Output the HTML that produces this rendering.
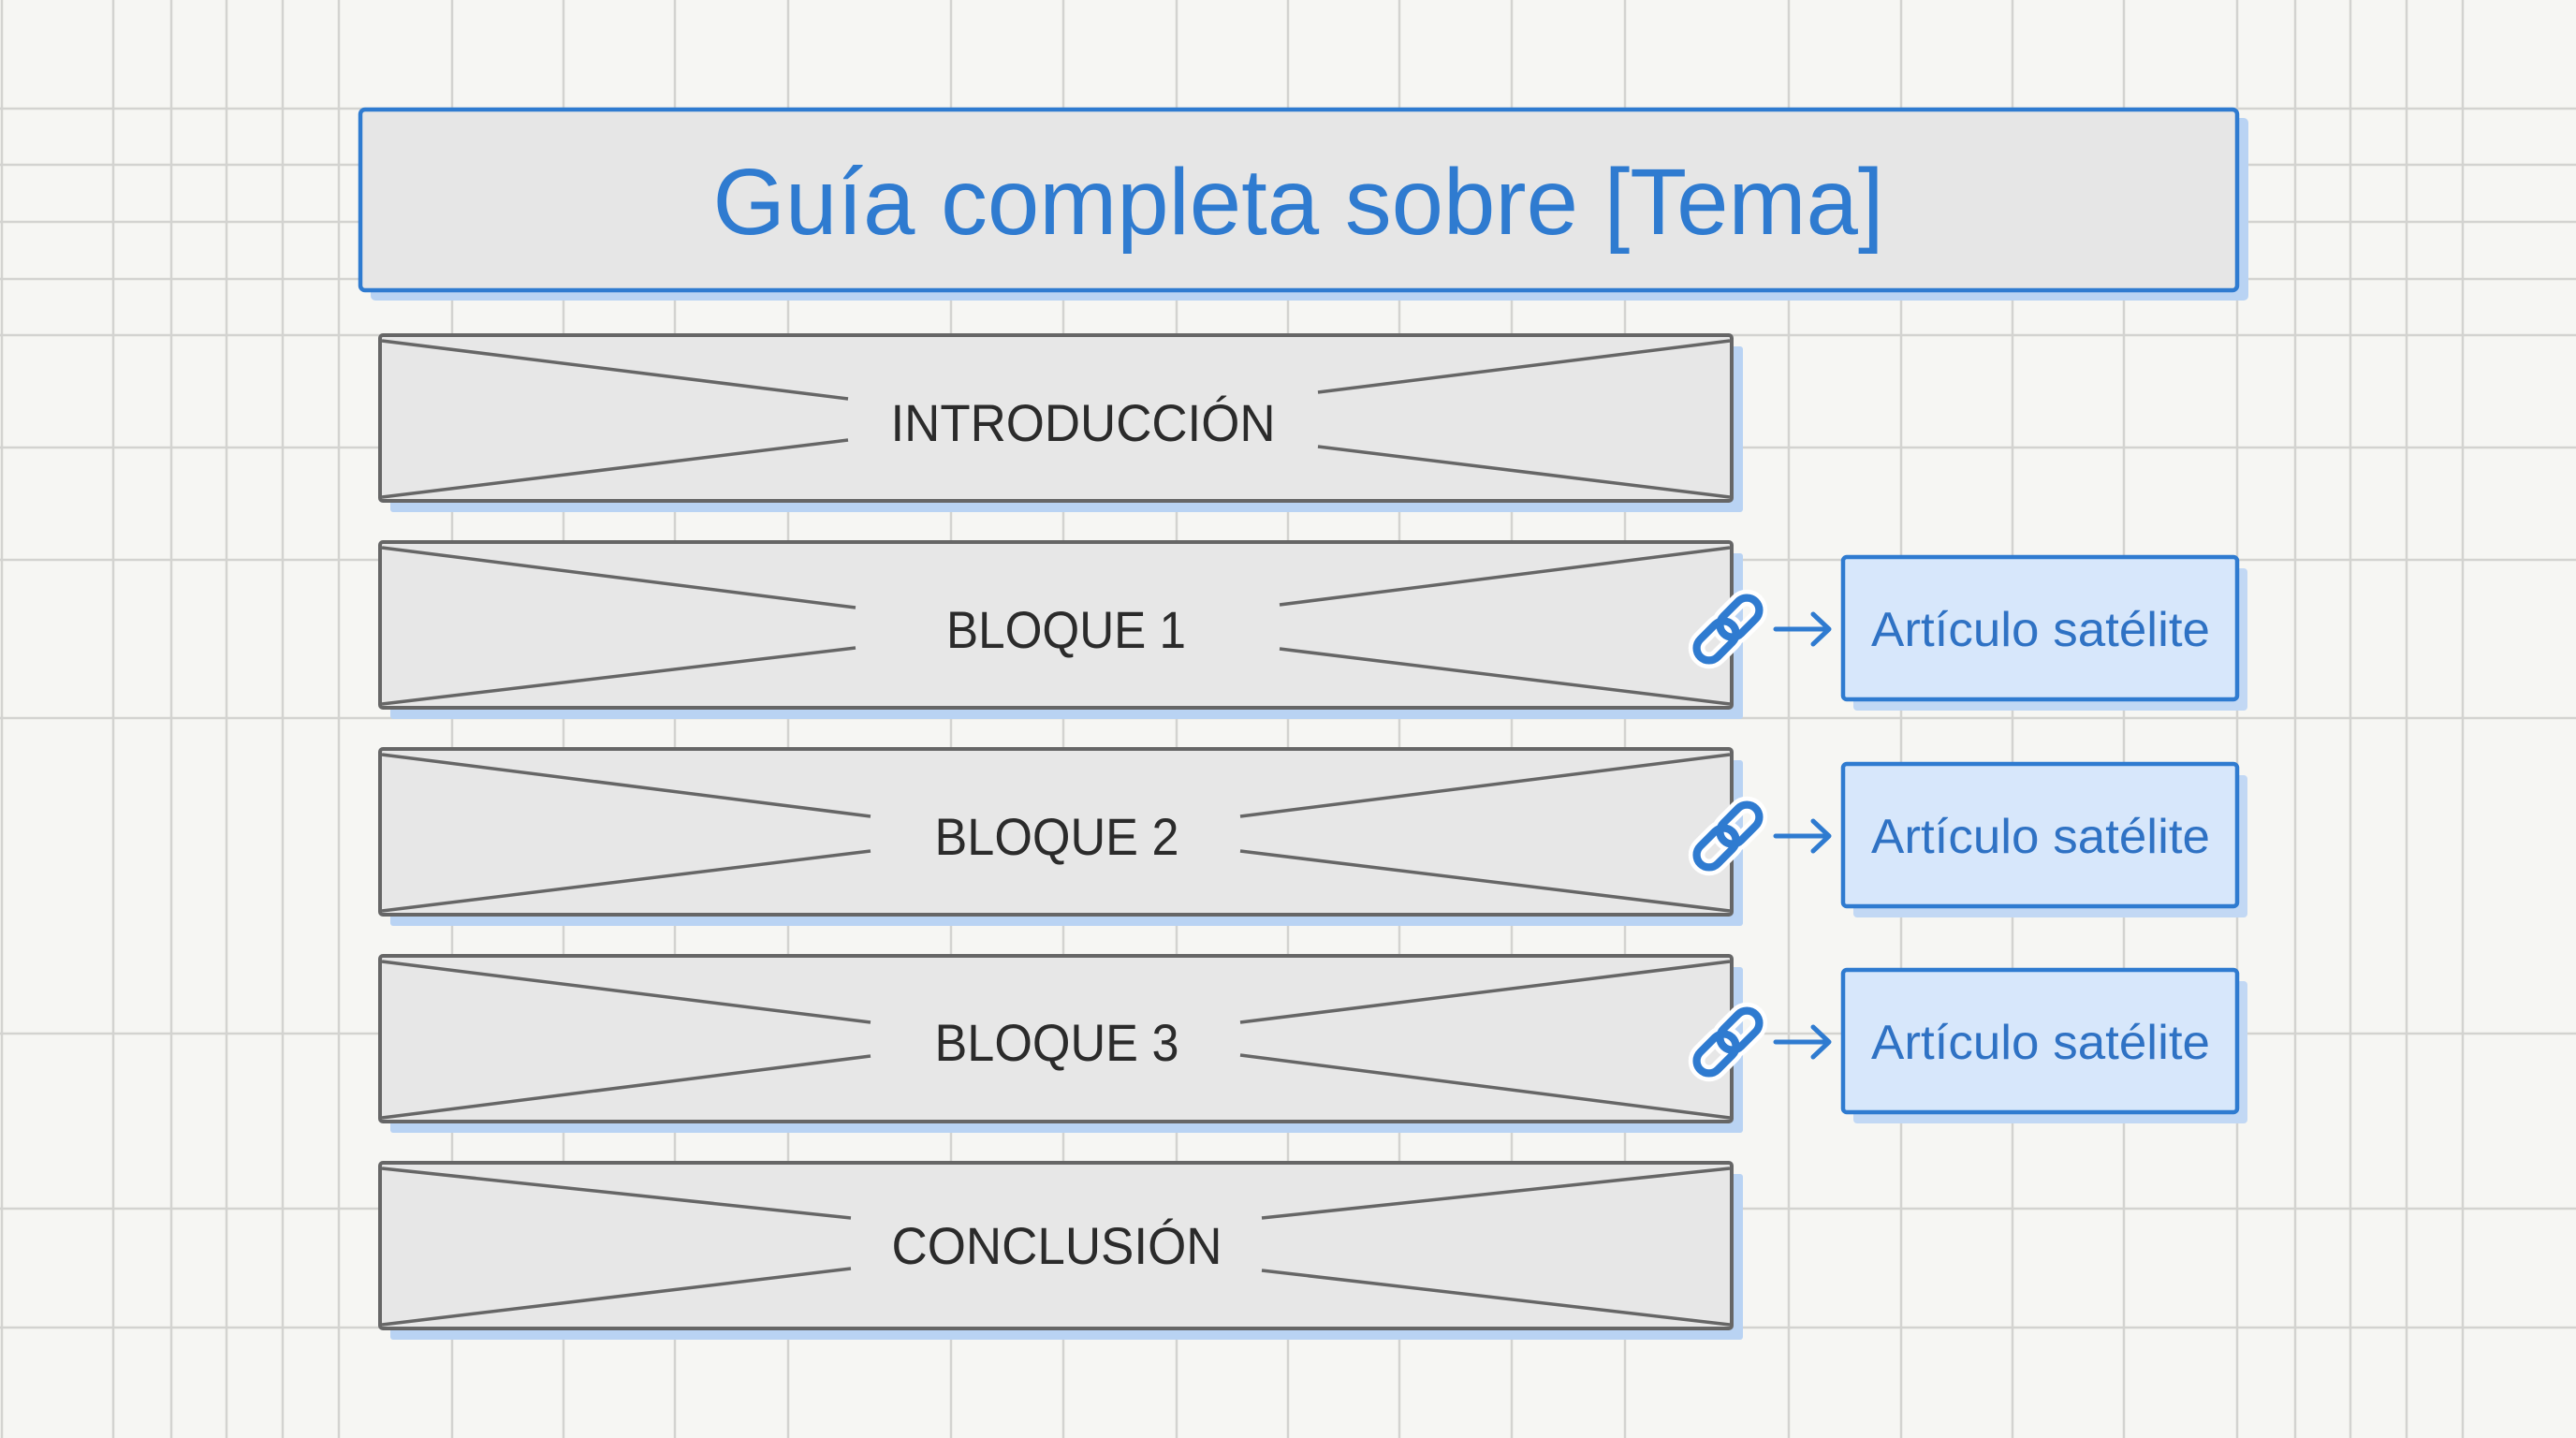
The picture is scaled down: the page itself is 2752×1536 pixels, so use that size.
<!DOCTYPE html>
<html><head><meta charset="utf-8"><style>
html,body{margin:0;padding:0;background:#f6f6f3;}
svg{display:block}
</style></head><body>
<svg width="2752" height="1536" viewBox="0 0 2752 1536" xmlns="http://www.w3.org/2000/svg">
<defs>
<symbol id="chain" viewBox="-40 -40 80 80">
<g transform="rotate(-45)" fill="none" stroke="#ffffff" stroke-width="16" stroke-linecap="round">
<rect x="-38" y="-12" width="44" height="24" rx="12"/>
<rect x="-6" y="-12" width="44" height="24" rx="12"/>
</g>
<g transform="rotate(-45)" fill="none" stroke="#2f7bd0" stroke-width="7.5">
<rect x="-38" y="-12" width="44" height="24" rx="12"/>
<rect x="-6" y="-12" width="44" height="24" rx="12"/>
</g>
</symbol>
</defs>
<rect width="2752" height="1536" fill="#f6f6f3"/>
<g stroke="#d3d3d0" stroke-width="2.5" fill="none">
<path d="M2 0V1536M121 0V1536M183 0V1536M242 0V1536M302 0V1536M362 0V1536M483 0V1536M602 0V1536M721 0V1536M842 0V1536M1016 0V1536M1136 0V1536M1257 0V1536M1376 0V1536M1495 0V1536M1615 0V1536M1736 0V1536M1911 0V1536M2031 0V1536M2150 0V1536M2269 0V1536M2390 0V1536M2452 0V1536M2511 0V1536M2571 0V1536M2631 0V1536"/>
<path d="M0 116H2752M0 176H2752M0 237H2752M0 298H2752M0 358H2752M0 478H2752M0 598H2752M0 767H2752M0 1104H2752M0 1291H2752M0 1418H2752"/>
</g>

<rect x="396" y="126" width="2006" height="195" rx="5" fill="#b9d3f3"/>
<rect x="385" y="117" width="2005" height="193" rx="5" fill="#e6e6e6" stroke="#2f7bd0" stroke-width="4.5"/>
<text x="1387" y="250" font-family="Liberation Sans, sans-serif" font-size="100" fill="#2f7bd0" text-anchor="middle" textLength="1251" lengthAdjust="spacingAndGlyphs">Guía completa sobre [Tema]</text>

<g font-family="Liberation Sans, sans-serif" font-size="56" fill="#2b2b2b" text-anchor="middle">
<g>
<rect x="417" y="370" width="1445" height="177" rx="3" fill="#b9d3f3"/>
<rect x="406" y="358" width="1444" height="177" rx="3" fill="#e7e7e7" stroke="#666" stroke-width="4"/>
<path d="M408 364L906 426M906 470L408 531M1848 364L1408 419M1408 477L1848 531" stroke="#666" stroke-width="3.5" fill="none"/>
<text x="1157" y="471" textLength="411" lengthAdjust="spacingAndGlyphs">INTRODUCCIÓN</text>
</g>
<g>
<rect x="417" y="591" width="1445" height="177" rx="3" fill="#b9d3f3"/>
<rect x="406" y="579" width="1444" height="177" rx="3" fill="#e7e7e7" stroke="#666" stroke-width="4"/>
<path d="M408 585L914 649M914 692L408 752M1848 585L1367 646M1367 693L1848 752" stroke="#666" stroke-width="3.5" fill="none"/>
<text x="1139" y="692" textLength="256" lengthAdjust="spacingAndGlyphs">BLOQUE 1</text>
</g>
<g>
<rect x="417" y="812" width="1445" height="177" rx="3" fill="#b9d3f3"/>
<rect x="406" y="800" width="1444" height="177" rx="3" fill="#e7e7e7" stroke="#666" stroke-width="4"/>
<path d="M408 806L930 872M930 909L408 973M1848 806L1325 872M1325 909L1848 973" stroke="#666" stroke-width="3.5" fill="none"/>
<text x="1129" y="913" textLength="261" lengthAdjust="spacingAndGlyphs">BLOQUE 2</text>
</g>
<g>
<rect x="417" y="1033" width="1445" height="177" rx="3" fill="#b9d3f3"/>
<rect x="406" y="1021" width="1444" height="177" rx="3" fill="#e7e7e7" stroke="#666" stroke-width="4"/>
<path d="M408 1027L930 1092M930 1128L408 1194M1848 1027L1325 1092M1325 1127L1848 1194" stroke="#666" stroke-width="3.5" fill="none"/>
<text x="1129" y="1133" textLength="261" lengthAdjust="spacingAndGlyphs">BLOQUE 3</text>
</g>
<g>
<rect x="417" y="1254" width="1445" height="177" rx="3" fill="#b9d3f3"/>
<rect x="406" y="1242" width="1444" height="177" rx="3" fill="#e7e7e7" stroke="#666" stroke-width="4"/>
<path d="M408 1248L909 1301M909 1355L408 1415M1848 1248L1348 1301M1348 1357L1848 1415" stroke="#666" stroke-width="3.5" fill="none"/>
<text x="1129" y="1350" textLength="353" lengthAdjust="spacingAndGlyphs">CONCLUSIÓN</text>
</g>
</g>

<g font-family="Liberation Sans, sans-serif" font-size="52" fill="#2f72c4" text-anchor="middle">
<g>
<use href="#chain" x="1802" y="628" width="88" height="88"/>
<path d="M1897 672H1953M1937 656L1954 672L1937 688" stroke="#2f7bd0" stroke-width="5" fill="none" stroke-linecap="round" stroke-linejoin="round"/>
<rect x="1980" y="607" width="421" height="152" rx="4" fill="#c2d8f4"/>
<rect x="1969" y="595" width="421" height="152" rx="4" fill="#d7e7fb" stroke="#2f7bd0" stroke-width="4.5"/>
<text x="2180" y="690" textLength="362" lengthAdjust="spacingAndGlyphs">Artículo satélite</text>
</g>
<g>
<use href="#chain" x="1802" y="849" width="88" height="88"/>
<path d="M1897 893H1953M1937 877L1954 893L1937 909" stroke="#2f7bd0" stroke-width="5" fill="none" stroke-linecap="round" stroke-linejoin="round"/>
<rect x="1980" y="828" width="421" height="152" rx="4" fill="#c2d8f4"/>
<rect x="1969" y="816" width="421" height="152" rx="4" fill="#d7e7fb" stroke="#2f7bd0" stroke-width="4.5"/>
<text x="2180" y="911" textLength="362" lengthAdjust="spacingAndGlyphs">Artículo satélite</text>
</g>
<g>
<use href="#chain" x="1802" y="1069" width="88" height="88"/>
<path d="M1897 1113H1953M1937 1097L1954 1113L1937 1129" stroke="#2f7bd0" stroke-width="5" fill="none" stroke-linecap="round" stroke-linejoin="round"/>
<rect x="1980" y="1048" width="421" height="152" rx="4" fill="#c2d8f4"/>
<rect x="1969" y="1036" width="421" height="152" rx="4" fill="#d7e7fb" stroke="#2f7bd0" stroke-width="4.5"/>
<text x="2180" y="1131" textLength="362" lengthAdjust="spacingAndGlyphs">Artículo satélite</text>
</g>
</g>
</svg>
</body></html>
